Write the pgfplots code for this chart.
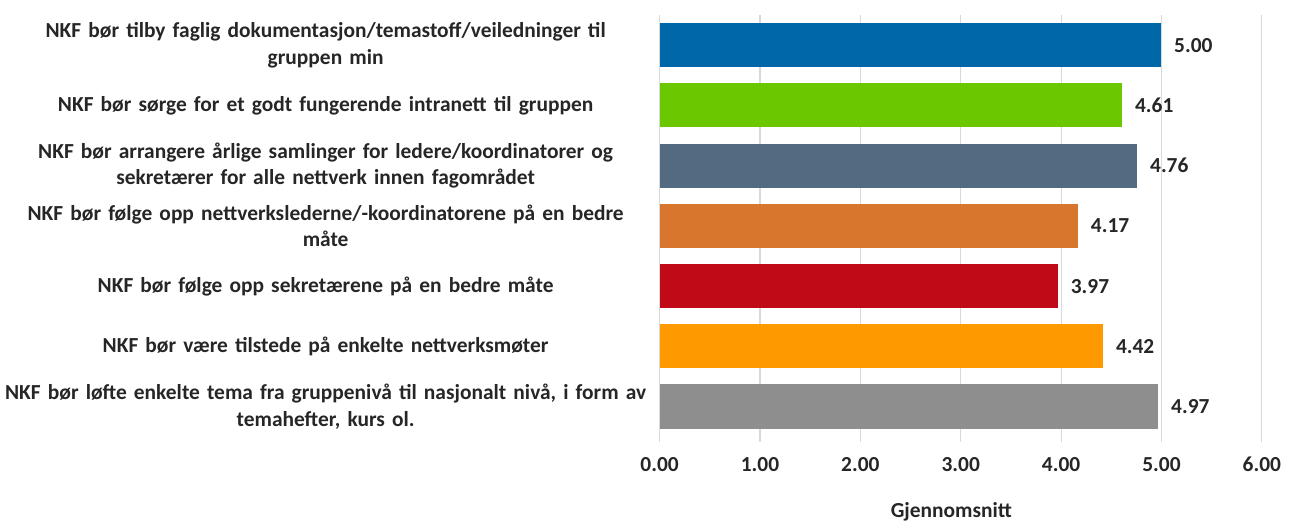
\documentclass[border=0pt]{standalone}
\usepackage{pgfplots}
\pgfplotsset{compat=1.18}
\usepackage{fontspec}
\setmainfont{Carlito}
\definecolor{c1}{HTML}{0068A8}
\definecolor{c2}{HTML}{6BC700}
\definecolor{c3}{HTML}{536B80}
\definecolor{c4}{HTML}{D9762E}
\definecolor{c5}{HTML}{C00A18}
\definecolor{c6}{HTML}{FF9900}
\definecolor{c7}{HTML}{8E8E8E}
\definecolor{txt}{HTML}{262626}
\definecolor{grd}{HTML}{D9D9D9}
\begin{document}
\begin{tikzpicture}
\begin{axis}[
  name=main,
  scale only axis,
  width=450pt, height=318.75pt,
  xbar, bar shift=0pt, bar width=0.733,
  xmin=0, xmax=6,
  ymin=-0.5, ymax=6.583,
  y dir=reverse,
  xtick={0,1,2,3,4,5,6},
  ytick={0,1,2,3,4,5,6},
  yticklabels={
    {NKF bør tilby faglig dokumentasjon/temastoff/veiledninger til\\gruppen min},
    {NKF bør sørge for et godt fungerende intranett til gruppen},
    {NKF bør arrangere årlige samlinger for ledere/koordinatorer og\\sekretærer for alle nettverk innen fagområdet},
    {NKF bør følge opp nettverkslederne/-koordinatorene på en bedre\\måte},
    {NKF bør følge opp sekretærene på en bedre måte},
    {NKF bør være tilstede på enkelte nettverksmøter},
    {NKF bør løfte enkelte tema fra gruppenivå til nasjonalt nivå, i form av\\temahefter, kurs ol.}
  },
  yticklabel style={text width=480pt, align=center, font=\fontsize{16}{20}\selectfont\bfseries, text=txt, xshift=-6pt},
  xticklabel style={font=\fontsize{16}{19}\selectfont\bfseries, text=txt, yshift=-8pt},
  /pgf/number format/assume math mode=true,
  xticklabel={\pgfmathprintnumber[fixed,fixed zerofill,precision=2]{\tick}},
  xlabel={Gjennomsnitt},
  xlabel style={font=\fontsize{16}{19}\selectfont\bfseries, text=txt, yshift=-16pt, xshift=-7pt},
  axis line style={draw=none},
  major tick length=0pt,
  xmajorgrids, grid style={grd, line width=0.8pt},
  point meta=x,
  nodes near coords={\pgfmathprintnumber[fixed,fixed zerofill,precision=2]{\pgfplotspointmeta}},
  nodes near coords style={font=\fontsize{16}{19}\selectfont\bfseries, text=txt, anchor=west, xshift=6pt},
  clip=false,
]
\addplot[fill=c1, draw=none] coordinates {(5.00,0)};
\addplot[fill=c2, draw=none] coordinates {(4.61,1)};
\addplot[fill=c3, draw=none] coordinates {(4.76,2)};
\addplot[fill=c4, draw=none] coordinates {(4.17,3)};
\addplot[fill=c5, draw=none] coordinates {(3.97,4)};
\addplot[fill=c6, draw=none] coordinates {(4.42,5)};
\addplot[fill=c7, draw=none] coordinates {(4.97,6)};
\end{axis}
\path ([xshift=29.25pt,yshift=11.25pt]main.north east);
\path ([yshift=-60.75pt]main.south west);
\end{tikzpicture}
\end{document}
